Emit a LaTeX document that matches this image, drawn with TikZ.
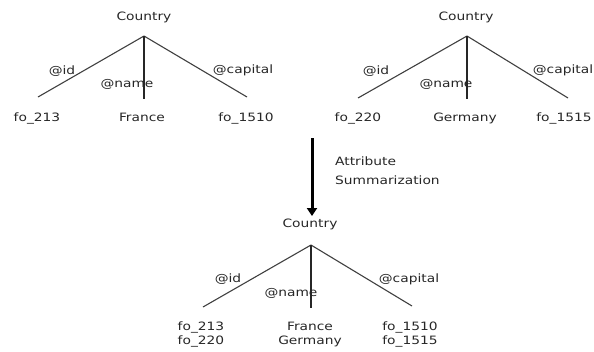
\documentclass[tikz,border=0pt]{standalone}
\usepackage{fontspec}
\setmainfont{DejaVu Sans}[FakeStretch=1.2]
\usetikzlibrary{arrows.meta}
\begin{document}
\begin{tikzpicture}[x=1pt,y=-1pt,
  lbl/.style={anchor=base,inner sep=0pt,font=\fontsize{11.5}{14}\selectfont,text=black!85},
  edge/.style={line width=1.1pt,draw=black!75},
  midedge/.style={line width=1.6pt,draw=black!85}]
\useasboundingbox (0,0) rectangle (594,351);
% ---- tree 1
\node[lbl] (c1) at (144,20) {Country};
\coordinate (a1) at (144,36);
\coordinate (l1) at (38,97);
\coordinate (m1) at (144,99);
\coordinate (r1) at (247,97);
\draw[edge] (a1) -- (l1);
\draw[edge] (a1) -- (r1);
\draw[midedge] (a1) -- (m1);
\node[lbl] (id1) at (62,74) {@id};
\node[lbl] (nm1) at (127,87) {@name};
\node[lbl] (cp1) at (243,73) {@capital};
\node[lbl] (f1) at (37,121) {fo\_213};
\node[lbl] (n1) at (142,121) {France};
\node[lbl] (k1) at (246,121) {fo\_1510};
% ---- tree 2
\node[lbl] (c2) at (466,20) {Country};
\coordinate (a2) at (467,36);
\coordinate (l2) at (358,98);
\coordinate (m2) at (467,99);
\coordinate (r2) at (568,98);
\draw[edge] (a2) -- (l2);
\draw[edge] (a2) -- (r2);
\draw[midedge] (a2) -- (m2);
\node[lbl] (id2) at (376,74) {@id};
\node[lbl] (nm2) at (446,87) {@name};
\node[lbl] (cp2) at (563,73) {@capital};
\node[lbl] (f2) at (358,121) {fo\_220};
\node[lbl] (n2) at (465,121) {Germany};
\node[lbl] (k2) at (564,121) {fo\_1515};
% ---- arrow
\coordinate (at) at (312,138);
\coordinate (ab) at (312,216);
\draw[line width=3pt,black,-{Triangle[length=8pt,width=10pt]}] (at) -- (ab);
\node[lbl,anchor=base west] (t1) at (335,165) {Attribute};
\node[lbl,anchor=base west] (t2) at (335,184) {Summarization};
% ---- tree 3
\node[lbl] (c3) at (310,227) {Country};
\coordinate (a3) at (311,245);
\coordinate (l3) at (203,307);
\coordinate (m3) at (311,308);
\coordinate (r3) at (412,306);
\draw[edge] (a3) -- (l3);
\draw[edge] (a3) -- (r3);
\draw[midedge] (a3) -- (m3);
\node[lbl] (id3) at (228,282) {@id};
\node[lbl] (nm3) at (291,296) {@name};
\node[lbl] (cp3) at (409,282) {@capital};
\node[lbl] (f3a) at (201,330) {fo\_213};
\node[lbl] (f3b) at (201,344) {fo\_220};
\node[lbl] (n3a) at (310,330) {France};
\node[lbl] (n3b) at (310,344) {Germany};
\node[lbl] (k3a) at (410,330) {fo\_1510};
\node[lbl] (k3b) at (410,344) {fo\_1515};
\end{tikzpicture}
\end{document}
